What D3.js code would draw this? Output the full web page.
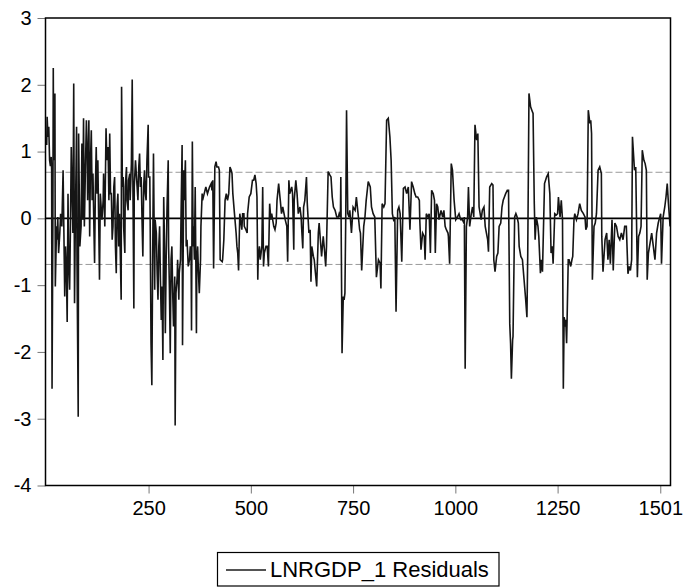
<!DOCTYPE html>
<html>
<head>
<meta charset="utf-8">
<script src="https://cdn.jsdelivr.net/npm/d3@7"></script>
<style>
  body { margin: 0; background: #fff; }
  text { font-family: "Liberation Sans", Arial, sans-serif; fill: #000; }
</style>
</head>
<body>
<div id="chart"></div>
<script>
var obs = [1,2,4,6,8,10,12,13,14,16,17,18,21,22,25,26,28,30,33,35,38,41,43,45,47,49,51,53,55,57,59,61,65,67,69,71,74,75,78,79,82,85,87,89,91,93,96,98,100,101,104,106,108,110,112,114,116,118,120,122,124,126,128,130,132,136,139,140,143,146,148,151,153,155,157,159,161,163,165,167,169,171,173,175,177,179,183,184,186,188,189,192,193,196,197,200,201,204,205,208,210,212,214,215,218,220,222,224,226,228,230,232,234,236,238,240,242,244,246,249,250,253,254,256,258,260,262,265,266,269,271,273,275,277,279,281,283,285,287,289,291,293,295,298,
  299,301,303,305,307,309,311,314,315,317,320,321,324,325,328,329,332,333,336,337,340,342,344,347,350,352,354,355,357,359,360,362,364,367,368,370,372,374,377,378,381,382,386,390,394,399,403,405,407,409,412,415,417,421,423,425,430,431,434,437,440,443,446,449,452,454,456,460,464,466,468,470,473,476,478,480,483,484,488,491,492,496,500,504,507,510,513,515,517,518,521,523,525,527,529,531,533,537,540,543,546,549,551,556,559,562,564,568,572,575,578,584,588,590,593,595,600,
  602,605,606,610,613,616,620,623,624,627,629,632,636,638,642,645,647,649,653,655,658,661,665,667,670,673,677,680,683,685,689,693,696,699,702,706,710,714,716,719,720,723,726,728,730,732,734,737,740,742,746,750,755,758,763,766,768,771,776,779,782,787,792,795,799,803,807,812,816,818,821,825,828,832,836,840,843,846,849,852,855,859,862,865,869,873,877,881,885,889,893,897,901,
  904,908,912,913,916,920,924,926,929,933,936,939,942,946,949,951,954,957,960,965,969,972,975,978,982,983,986,990,993,997,1001,1005,1009,1013,1017,1021,1022,1024,1027,1030,1032,1035,1039,1042,1045,1048,1052,1055,1058,1063,1066,1070,1073,1076,1079,1081,1084,1089,1092,1094,1097,1101,1104,1107,1111,1114,1117,1120,1123,1127,1130,1133,1135,1137,1140,1141,1145,1148,1151,1154,1156,1160,1164,1168,1172,1175,1177,1180,1184,1187,1190,1193,1195,1198,1202,1204,1208,
  1210,1213,1218,1223,1227,1231,1234,1237,1239,1243,1247,1250,1252,1256,1259,1260,1262,1264,1266,1269,1270,1272,1273,1276,1278,1282,1285,1287,1290,1292,1296,1300,1304,1308,1313,1317,1319,1322,1325,1329,1331,1333,1335,1339,1342,1345,1349,1353,1357,1358,1361,1366,1370,1373,1376,1379,1383,1386,1390,1394,1398,1402,1406,1410,1414,1418,1422,1425,1428,1431,1433,1438,1441,1445,1448,1451,1454,1457,1461,1464,1467,1469,1472,1476,1480,1484,1488,1492,1496,1498,1502,1504,1508,1512,1515,1518,1521,1525];

var resid = [1.1,1.52,1.22,1.37,0.87,0.78,0.92,0.72,-2.55,-0.12,2.25,0.87,1.87,-1.02,-0.12,-0.32,0.02,-0.52,-0.22,0.07,-0.12,0.72,-0.22,-1.17,-0.42,-0.72,-1.55,0.37,-0.72,-1.07,-0.12,1.07,-0.22,2.02,-1.27,-0.02,1.37,-0.62,-2.97,1.27,-0.42,-0.12,1.12,-0.02,1.5,-0.12,0.87,1.47,0.92,0.27,1.47,-0.27,0.87,1.32,0.27,0.67,-0.02,-0.67,0.47,1.07,0.37,0.87,-0.02,-0.92,0.37,-0.02,0.27,0.67,-0.12,1.35,0.87,1.07,0.27,1.27,0.37,0.37,-0.32,-0.12,0.47,0.62,-0.42,-0.82,0.17,0.37,-0.42,0.07,-1.22,1.97,0.47,0.62,-0.12,-0.52,0.47,0.77,0.27,0.12,0.57,0.67,0.27,0.82,2.08,0.27,-1.35,0.47,0.87,0.67,0.47,0.27,0.77,0.97,0.47,0.62,-0.02,-0.57,0.47,0.72,0.37,0.27,0.87,1.4,0.62,0.62,-0.12,-1.87,-2.5,-0.62,0.97,-1.07,-0.02,-0.22,-0.82,-1.22,-0.42,-0.12,-0.92,-1.52,-1.02,-2.12,0.32,-0.42,-1.72,-0.62,0.12,0.87,-0.42,
  -1.07,-2.02,-0.62,-0.42,-1.12,-1.62,-0.87,-3.1,-1.12,-0.87,-0.62,-1.22,-0.82,-0.62,-0.12,1.1,-1.9,0.72,0.27,0.87,-0.42,-0.32,-0.72,-0.62,-0.42,-0.62,-1.68,1.15,-0.42,-0.12,-0.62,0.47,-1.72,-0.62,-0.42,-0.82,-1.12,-0.62,-0.12,0.37,0.27,0.37,0.47,0.37,0.47,0.52,0.42,0.57,-0.75,0.77,0.85,0.77,0.77,0.72,-0.62,-0.65,-0.62,-0.32,0.27,0.37,0.27,0.37,0.77,0.72,0.67,0.37,0.07,-0.22,-0.42,-0.52,-0.78,0.07,-0.07,-0.17,0.07,0.07,-0.12,-0.17,-0.22,0.07,0.32,0.37,0.57,0.57,0.65,0.52,0.32,-0.92,-0.62,-0.42,-0.62,-0.52,-0.42,0.47,-0.72,-0.52,-0.42,-0.42,-0.72,0.22,-0.02,0.07,-0.12,-0.17,-0.07,0.27,0.52,0.27,0.07,0.17,-0.02,-0.12,-0.65,0.57,0.37,0.47,0.37,
  -0.47,0.27,0.57,0.37,0.07,0.17,0.02,-0.12,-0.45,0.17,0.27,0.62,0.22,-0.22,-0.17,-0.95,-0.42,-0.57,-0.62,-0.82,-1.02,-0.22,-0.07,-0.32,-0.57,-0.27,-0.47,-0.72,-0.42,0.7,0.65,0.62,0.32,0.17,0.12,0.02,0.02,0.07,0.02,0.62,-2.02,-1.17,-1.22,-1.12,-0.02,1.62,0.07,0.02,0.12,-0.22,0.17,0.12,0.32,0.02,-0.17,-0.22,-0.78,-0.12,0.02,0.27,0.55,0.47,0.17,0.07,0.02,-0.88,-0.62,-0.67,-1.05,0.22,0.17,0.22,1.47,1.5,1.22,0.87,0.07,-0.02,0.02,-1.4,0.12,0.17,0.07,-0.65,0.45,0.47,0.37,0.47,-0.17,0.55,0.47,0.37,0.32,
  0.32,0.27,-0.02,-0.47,-0.22,-0.27,-0.62,0.07,0.02,0.07,-0.52,0.42,0.37,0.27,-0.52,0.22,0.17,-0.02,0.12,0.02,0.12,-0.12,-0.17,-0.22,-0.27,-0.68,0.82,0.72,0.27,-0.02,0.02,0.07,-0.02,-0.02,-0.07,0.02,-2.25,-0.12,0.02,0.47,-0.12,0.07,0.17,0.02,1.4,1.17,1.27,0.17,-0.02,0.12,0.17,-0.12,-0.22,-0.32,-0.5,0.47,0.52,0.5,-0.62,-0.8,-0.57,-0.52,-0.12,-0.07,0.17,0.27,0.32,0.37,0.42,0.42,-1.58,-1.87,-2.4,-1.82,-1.77,0.02,0.07,0.02,-0.07,-0.42,-0.57,-0.62,-0.92,-1.22,-1.48,-0.52,1.87,1.67,1.62,1.57,0.22,-0.32,0.02,-0.12,-0.27,-0.82,-0.62,
  -0.8,0.52,0.62,0.67,0.37,-0.52,-0.42,-0.68,0.07,0.05,0.07,0.32,0.02,0.27,0.17,-0.02,-2.55,-1.48,-1.62,-1.52,-1.87,-1.58,-0.62,-0.62,-0.72,-0.62,-0.57,-0.02,0.07,-0.02,0.07,0.22,0.12,0.07,0.02,-0.17,-0.12,1.62,1.42,1.47,1.27,-0.92,-0.12,-0.07,0.07,0.72,0.77,0.67,-0.27,-0.8,-0.32,-0.22,-0.62,-0.32,-0.68,-0.02,-0.78,-0.07,-0.12,-0.27,-0.32,-0.22,-0.32,-0.12,-0.12,-0.83,-0.72,-0.78,-0.62,1.22,0.72,0.77,-0.88,-0.27,-0.22,-0.12,1.02,0.87,0.82,0.72,-0.92,-0.52,-0.37,-0.22,-0.42,-0.62,-0.22,-0.07,-0.02,0.07,-0.68,0.02,0.17,0.32,0.52,0.22,-0.12,-0.42];

var yTicks = [-4, -3, -2, -1, 0, 1, 2, 3];
var xTicks = [250, 500, 750, 1000, 1250, 1501];
var band = 0.69;            // dashed +/- lines
var seriesName = "LNRGDP_1 Residuals";

var width = 685, height = 588;
// plot frame (note: "top" is taken by window.top, so prefix everything)
var plotL = 45.5, plotR = 670.5, plotT = 18, plotB = 485.5;

var svg = d3.select("#chart").append("svg")
    .attr("width", width)
    .attr("height", height);

var x = d3.scaleLinear().domain([-2, 1526]).range([plotL, plotR]);
var y = d3.scaleLinear().domain([-4, 3]).range([plotB, plotT]);

var data = obs.map(function(d, i) { return {o: d, v: resid[i]}; });

// plain hyphen minus, like the original
var fmt = function(d) { return String(d); };

// axes with outside ticks
var xAxis = svg.append("g")
    .attr("transform", "translate(0," + plotB + ")")
    .call(d3.axisBottom(x).tickValues(xTicks).tickSize(8).tickPadding(6).tickFormat(fmt));
var yAxis = svg.append("g")
    .attr("transform", "translate(" + plotL + ",0)")
    .call(d3.axisLeft(y).tickValues(yTicks).tickSize(8).tickPadding(6).tickFormat(fmt));

[xAxis, yAxis].forEach(function(a) {
  a.select(".domain").remove();
  a.selectAll(".tick line").attr("stroke", "#777");
  a.selectAll(".tick text").style("font-size", "20px").attr("fill", "#000");
});
xAxis.selectAll(".tick text").attr("dy", "0.78em");

// dashed band lines
svg.selectAll("line.band")
    .data([band, -band])
    .enter().append("line")
    .attr("class", "band")
    .attr("x1", plotL).attr("x2", plotR)
    .attr("y1", function(d) { return y(d); })
    .attr("y2", function(d) { return y(d); })
    .attr("stroke", "#9a9a9a")
    .attr("stroke-width", 1)
    .attr("stroke-dasharray", "7,3");

// zero line
svg.append("line")
    .attr("x1", plotL).attr("x2", plotR)
    .attr("y1", y(0)).attr("y2", y(0))
    .attr("stroke", "#000")
    .attr("stroke-width", 1.6);

// residual series
var line = d3.line()
    .x(function(d) { return x(d.o); })
    .y(function(d) { return y(d.v); });

svg.append("path")
    .datum(data)
    .attr("fill", "none")
    .attr("stroke", "#151515")
    .attr("stroke-width", 1.6)
    .attr("d", line);

// frame
svg.append("rect")
    .attr("x", plotL).attr("y", plotT)
    .attr("width", plotR - plotL).attr("height", plotB - plotT)
    .attr("fill", "none")
    .attr("stroke", "#000")
    .attr("stroke-width", 1.5);

// legend
var lg = svg.append("g");
lg.append("rect")
    .attr("x", 217.5).attr("y", 552.5)
    .attr("width", 281.5).attr("height", 33.5)
    .attr("fill", "#fff")
    .attr("stroke", "#000")
    .attr("stroke-width", 1.2);
lg.append("line")
    .attr("x1", 226).attr("x2", 266)
    .attr("y1", 570).attr("y2", 570)
    .attr("stroke", "#1a1a1a")
    .attr("stroke-width", 1.3);
lg.append("text")
    .attr("x", 270).attr("y", 577)
    .style("font-size", "22px")
    .text(seriesName);
</script>
</body>
</html>
